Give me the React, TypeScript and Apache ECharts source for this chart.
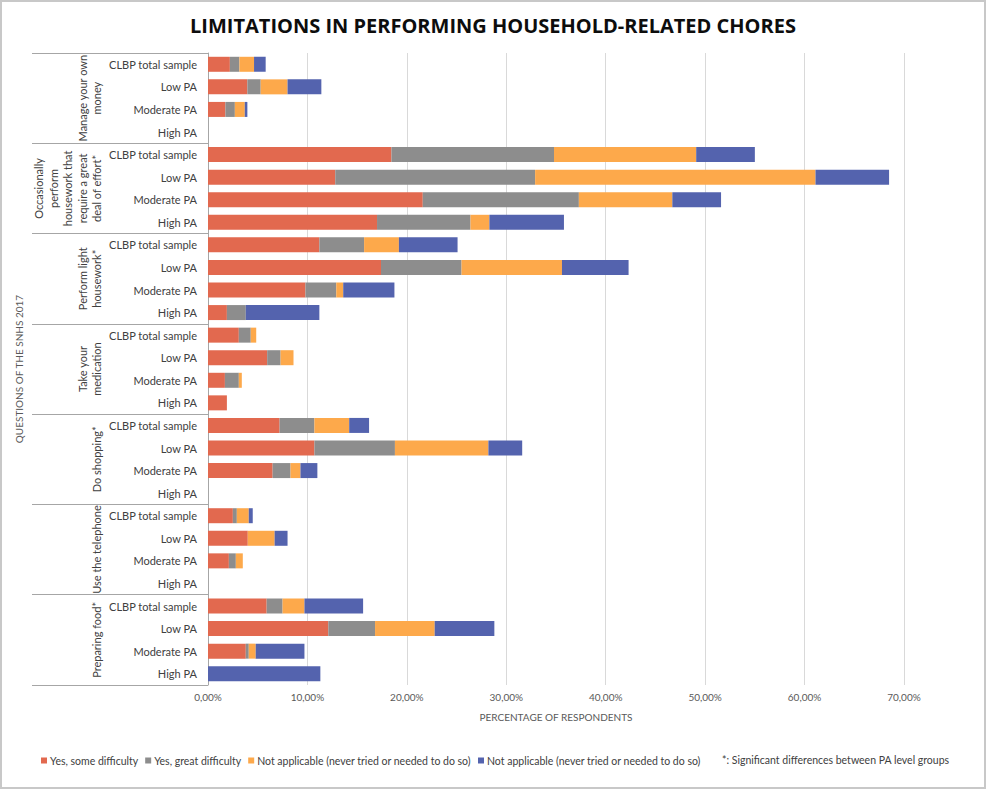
import React, { useEffect, useRef } from "react";
import * as echarts from "echarts";

const chartTitle = "LIMITATIONS IN PERFORMING HOUSEHOLD-RELATED CHORES";
const xAxisTitle = "PERCENTAGE OF RESPONDENTS";
const yAxisTitle = "QUESTIONS OF THE SNHS 2017";
const footnote = "*: Significant differences between PA level groups";

const groupLabels = [
  "Manage your own\nmoney",
  "Occasionally\nperform\nhousework that\nrequire a great\ndeal of effort*",
  "Perform light\nhousework*",
  "Take your\nmedication",
  "Do shopping*",
  "Use the telephone",
  "Preparing food*",
];
const subgroupLabels = ["CLBP total sample", "Low PA", "Moderate PA", "High PA"];
const rowLabels = groupLabels.flatMap(() => subgroupLabels);

const seriesKeys = ["some", "great", "na1", "na2"];
const legendTexts: Record<string, string> = {
  some: "Yes, some difficulty",
  great: "Yes, great difficulty",
  na1: "Not applicable (never tried or needed to do so)",
  na2: "Not applicable (never tried or needed to do so)",
};
const seriesColors = ["#E2694F", "#8D8D8D", "#FDA94B", "#5463AE"];

// percentages, rows top to bottom (group x subgroup)
const someDifficulty = [
  2.2, 3.96, 1.75, 0,
  18.45, 12.8, 21.6, 17.0,
  11.2, 17.4, 9.8, 1.9,
  3.1, 5.95, 1.7, 1.9,
  7.2, 10.7, 6.5, 0,
  2.5, 4.0, 2.1, 0,
  5.9, 12.1, 3.8, 0,
];
const greatDifficulty = [
  0.96, 1.34, 0.95, 0,
  16.35, 20.1, 15.7, 9.4,
  4.5, 8.1, 3.1, 1.9,
  1.2, 1.35, 1.4, 0,
  3.5, 8.1, 1.8, 0,
  0.4, 0, 0.7, 0,
  1.6, 4.7, 0.3, 0,
];
const notApplicableA = [
  1.47, 2.7, 1.0, 0,
  14.3, 28.2, 9.4, 1.9,
  3.5, 10.1, 0.7, 0,
  0.55, 1.3, 0.3, 0,
  3.5, 9.4, 1.0, 0,
  1.2, 2.7, 0.7, 0,
  2.2, 6.0, 0.7, 0,
];
const notApplicableB = [
  1.17, 3.4, 0.26, 0,
  5.9, 7.4, 4.9, 7.5,
  5.9, 6.7, 5.15, 7.4,
  0, 0, 0, 0,
  2.0, 3.4, 1.7, 0,
  0.4, 1.3, 0, 0,
  5.9, 6.0, 4.9, 11.3,
];
const seriesValues = [someDifficulty, greatDifficulty, notApplicableA, notApplicableB];

const xMin = 0;
const xMax = 70;
const xInterval = 10;

export default function App() {
  const ref = useRef<HTMLDivElement>(null);

  useEffect(() => {
    document.body.style.margin = "0";
    if (!ref.current) return;
    const chart = echarts.init(ref.current, undefined, { renderer: "svg" });
    const font = "Lato";
    chart.setOption({
      animation: false,
      backgroundColor: "#ffffff",
      textStyle: { fontFamily: font },
      title: {
        text: chartTitle,
        left: "center",
        top: 10,
        textStyle: {
          fontFamily: "Open Sans",
          fontWeight: "bold",
          fontSize: 20,
          color: "#0d0d0d",
        },
      },
      legend: {
        data: seriesKeys,
        left: 36,
        top: 750,
        icon: "rect",
        itemWidth: 6,
        itemHeight: 6,
        itemGap: 7,
        formatter: (name: string) => legendTexts[name],
        textStyle: { fontFamily: font, fontSize: 10.5, color: "#404040", padding: [0, 0, 0, -2] },
      },
      grid: { left: 208, right: 82, top: 53, bottom: 104, containLabel: false },
      xAxis: {
        type: "value",
        min: xMin,
        max: xMax,
        interval: xInterval,
        name: xAxisTitle,
        nameLocation: "middle",
        nameGap: 27,
        nameTextStyle: { fontFamily: font, fontSize: 10, color: "#595959" },
        axisLine: { show: false },
        axisTick: { show: false },
        axisLabel: {
          margin: 7,
          fontSize: 10,
          color: "#595959",
          formatter: (v: number) => v.toFixed(2).replace(".", ",") + "%",
        },
        splitLine: { show: true, lineStyle: { color: "#d9d9d9", width: 1 } },
      },
      yAxis: [
        {
          type: "category",
          data: rowLabels,
          inverse: true,
          position: "left",
          axisLine: { show: true, lineStyle: { color: "#a6a6a6", width: 1 } },
          axisTick: { show: false },
          axisLabel: { interval: 0, margin: 11, fontSize: 11, color: "#404040" },
          splitLine: { show: false },
        },
        {
          type: "category",
          data: groupLabels,
          inverse: true,
          position: "left",
          offset: 0,
          name: yAxisTitle,
          nameLocation: "middle",
          nameRotate: 90,
          nameGap: 179,
          nameTextStyle: { fontFamily: font, fontSize: 10, color: "#595959" },
          axisLine: { show: false },
          axisTick: { show: true, interval: 0, length: 176, lineStyle: { color: "#a6a6a6", width: 1 } },
          axisLabel: {
            interval: 0,
            rotate: 90,
            margin: 104,
            fontSize: 11,
            lineHeight: 14.5,
            color: "#404040",
            align: "center",
          },
          splitLine: { show: false },
        },
      ],
      series: seriesKeys.map((key, i) => ({
        type: "bar",
        name: key,
        stack: "total",
        yAxisIndex: 0,
        barWidth: 15,
        data: seriesValues[i],
        itemStyle: { color: seriesColors[i] },
      })),
      graphic: [
        {
          type: "text",
          left: 722,
          top: 754,
          style: { text: footnote, fill: "#404040", font: `10.5px ${font}` },
        },
        {
          type: "rect",
          silent: true,
          shape: { x: 1, y: 1, width: 984, height: 787 },
          style: { fill: "none", stroke: "#c8c8c8", lineWidth: 2 },
        },
      ],
    });
    return () => chart.dispose();
  }, []);

  return <div ref={ref} style={{ width: 986, height: 789 }} />;
}
